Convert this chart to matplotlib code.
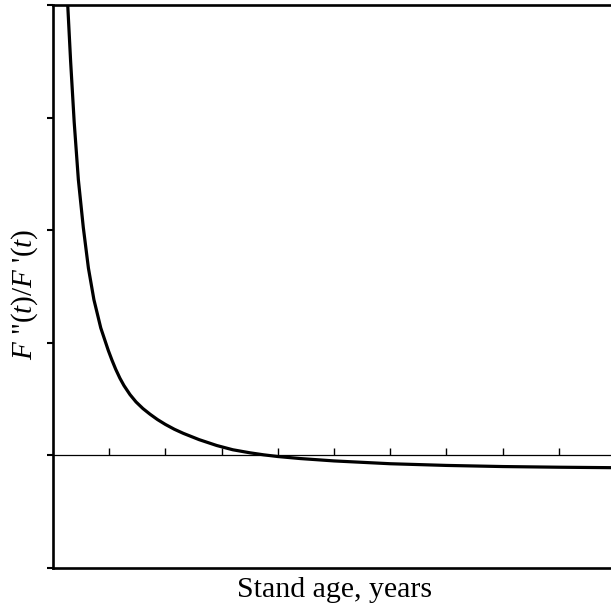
import matplotlib
matplotlib.use("Agg")
import matplotlib.pyplot as plt

plt.rcParams['font.family'] = ['Liberation Serif', 'DejaVu Serif']
plt.rcParams['mathtext.fontset'] = 'custom'
plt.rcParams['mathtext.rm'] = 'Liberation Serif'
plt.rcParams['mathtext.it'] = 'Liberation Serif:italic'

# Curve values (stand age and ratio in tick units)
age = [0.25, 0.262, 0.3135, 0.377, 0.451, 0.539, 0.63, 0.728, 0.85, 0.984,
       1.05, 1.115, 1.19, 1.263, 1.37, 1.477, 1.6, 1.726, 1.86, 2.0,
       2.16, 2.318, 2.6, 2.913, 3.2, 3.505, 3.75, 4.0, 4.4, 5.0,
       6.0, 7.0, 8.0, 9.0, 9.93]
ratio = [4.12, 4.0, 3.50, 2.96, 2.45, 2.025, 1.664, 1.383, 1.132, 0.932,
         0.845, 0.766, 0.686, 0.620, 0.540, 0.475, 0.416, 0.366, 0.318, 0.275,
         0.232, 0.196, 0.140, 0.088, 0.050, 0.023, 0.005, -0.010, -0.028, -0.049,
         -0.074, -0.089, -0.099, -0.105, -0.109]

y_ticks = [-1, 0, 1, 2, 3, 4]
x_ticks = [1, 2, 3, 4, 5, 6, 7, 8, 9]

W, H = 611, 612
fig = plt.figure(figsize=(W / 100, H / 100), dpi=100)
ax = fig.add_axes([53 / W, 1 - 568 / H, 562 / W, 563 / H])

ax.plot(age, ratio, color='black', lw=2.3, solid_joinstyle='round')
ax.axhline(0, color='black', lw=0.9)

ax.set_xlim(0, 10)
ax.set_ylim(-1, 4)
ax.set_yticks(y_ticks)
ax.set_yticklabels([])
ax.tick_params(axis='y', direction='out', length=4, width=1.5, color='black')
ax.set_xticks([])
for s in ax.spines.values():
    s.set_linewidth(1.9)
ax.spines['right'].set_visible(False)

sec = ax.secondary_xaxis(0.2)
sec.set_xticks(x_ticks)
sec.set_xticklabels([])
sec.tick_params(direction='in', length=5, width=1.0)
sec.spines['bottom'].set_visible(False)

fig.text(335 / W, 1 - 597 / H, 'Stand age, years', ha='center', va='baseline', fontsize=21.5)
fig.text(25 / W, 1 - 294 / H, "$F$ \"($t$)/$F$ '($t$)", ha='center', va='center',
         rotation=90, fontsize=21)

fig.savefig('out.png', dpi=100)
